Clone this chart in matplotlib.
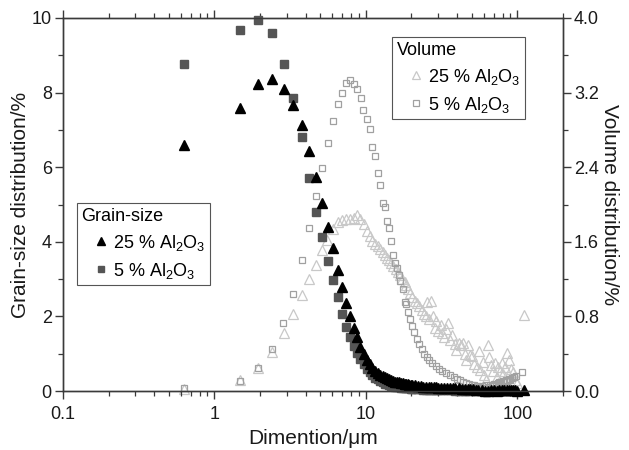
import matplotlib
matplotlib.use('Agg')
import matplotlib.pyplot as plt
from matplotlib.ticker import MultipleLocator, LogLocator, FormatStrFormatter, NullFormatter

plt.rcParams['font.family'] = ['Liberation Sans', 'DejaVu Sans']
plt.rcParams['mathtext.fontset'] = 'custom'
plt.rcParams['mathtext.rm'] = 'Liberation Sans'

# grain-size distribution (left axis, %)
g25_x = [0.63, 1.48, 1.94, 2.40, 2.86, 3.31, 3.78, 4.24, 4.69, 5.16, 5.59, 6.04, 6.51,
         6.95, 7.39, 7.85, 8.30, 8.77, 9.20, 9.66, 10.1, 10.6, 11.0, 11.5, 12.0, 12.4,
         12.9, 13.3, 13.8, 14.3, 14.7, 15.2, 15.6, 16.1, 16.6, 17.0, 17.5, 18.0, 18.4,
         18.9, 19.3, 19.8, 20.3, 21, 22, 23, 24, 25, 26, 27, 28, 29, 30, 31.5, 33, 34.5,
         36, 37.5, 39, 41, 43, 45, 47, 49, 51, 53, 55, 58, 61, 64, 67, 70, 73, 76, 79,
         82, 85, 88, 91, 94, 97, 100, 110]
g25_y = [6.60, 7.58, 8.22, 8.36, 8.11, 7.68, 7.12, 6.43, 5.73, 5.04, 4.39, 3.83, 3.25,
         2.78, 2.37, 2.02, 1.70, 1.44, 1.19, 0.98, 0.84, 0.72, 0.63, 0.55, 0.49, 0.44,
         0.40, 0.37, 0.34, 0.31, 0.29, 0.27, 0.25, 0.24, 0.23, 0.22, 0.21, 0.20, 0.19,
         0.18, 0.17, 0.17, 0.16, 0.15, 0.14, 0.13, 0.12, 0.12, 0.11, 0.11, 0.10, 0.10,
         0.09, 0.09, 0.08, 0.08, 0.08, 0.07, 0.07, 0.07, 0.06, 0.06, 0.06, 0.05, 0.05,
         0.04, 0.03, 0.02, 0.01, 0.01, 0.02, 0.02, 0.01, 0.03, 0.02, 0.04, 0.03, 0.04,
         0.03, 0.04, 0.02, 0.01, 0.04]

g5_x = [0.63, 1.48, 1.94, 2.40, 2.86, 3.31, 3.78, 4.24, 4.69, 5.16, 5.59, 6.04, 6.51,
        6.95, 7.39, 7.85, 8.30, 8.77, 9.20, 9.66, 10.1, 10.6, 11.0, 11.5, 12.0, 12.4,
        12.9, 13.3, 13.8, 14.3, 14.7, 15.2, 15.6, 16.1, 16.6, 17.0, 17.5, 18.0, 18.4,
        18.9, 19.3, 19.8, 20.3, 21, 22, 23, 24, 25, 26, 27, 28, 29, 30, 31.5, 33, 34.5,
        36, 37.5, 39, 41, 43, 45, 47, 49]
g5_y = [8.78, 9.69, 9.95, 9.61, 8.78, 7.86, 6.82, 5.72, 4.80, 4.12, 3.48, 2.97, 2.51,
        2.07, 1.71, 1.44, 1.22, 1.03, 0.85, 0.72, 0.60, 0.50, 0.42, 0.36, 0.31, 0.27,
        0.23, 0.20, 0.18, 0.16, 0.14, 0.13, 0.12, 0.11, 0.10, 0.09, 0.09, 0.08, 0.08,
        0.07, 0.07, 0.06, 0.06, 0.06, 0.05, 0.05, 0.04, 0.04, 0.04, 0.03, 0.03, 0.03,
        0.03, 0.02, 0.02, 0.02, 0.02, 0.02, 0.01, 0.01, 0.01, 0.01, 0.01, 0.01]

# volume distribution (right axis, %)
v25_x = [0.63, 1.48, 1.94, 2.40, 2.86, 3.32, 3.78, 4.22, 4.67, 5.14, 5.58, 6.04, 6.50,
         6.95, 7.40, 7.85, 8.30, 8.75, 9.20, 9.66, 10.1, 10.6, 11.0, 11.5, 12.0, 12.4,
         12.9, 13.3, 13.8, 14.3, 14.7, 15.2, 15.7, 16.2, 16.8, 17.4, 18.0, 18.5, 19.1,
         19.7, 20.3, 21.0, 21.7, 22.5, 23.3, 24.1, 25.0, 25.5, 26.0, 27.0, 27.6, 28.5,
         29.0, 30.0, 31.3, 32.0, 33.0, 34.0, 35.0, 36.0, 37.0, 38.5, 39.5, 41.0, 42.5,
         44.0, 45.0, 46.0, 47.0, 48.5, 50.0, 52.0, 54.0, 56.0, 57.0, 59.0, 60.0, 62.0,
         64.0, 65.0, 67.0, 69.0, 71.0, 73.0, 75.0, 77.0, 79.0, 81.0, 83.0, 86.0, 88.0,
         91.0, 94.0, 97.0, 100.0, 110.0]
v25_y = [0.02, 0.12, 0.25, 0.42, 0.62, 0.83, 1.03, 1.20, 1.35, 1.51, 1.62, 1.74, 1.81,
         1.83, 1.84, 1.85, 1.86, 1.89, 1.84, 1.79, 1.72, 1.66, 1.61, 1.58, 1.55, 1.52,
         1.49, 1.46, 1.43, 1.40, 1.37, 1.34, 1.31, 1.28, 1.24, 1.20, 1.17, 1.14, 1.09,
         1.05, 1.01, 0.97, 0.94, 0.91, 0.87, 0.83, 0.80, 0.96, 0.77, 0.97, 0.80, 0.68,
         0.75, 0.64, 0.71, 0.62, 0.58, 0.66, 0.73, 0.55, 0.60, 0.50, 0.44, 0.52, 0.49,
         0.51, 0.40, 0.33, 0.49, 0.39, 0.38, 0.29, 0.26, 0.43, 0.23, 0.31, 0.17, 0.12,
         0.49, 0.37, 0.28, 0.21, 0.30, 0.15, 0.26, 0.22, 0.30, 0.18, 0.26, 0.41, 0.33,
         0.24, 0.20, 0.12, 0.09, 0.82]

v5_x = [0.63, 1.48, 1.94, 2.40, 2.85, 3.32, 3.79, 4.24, 4.67, 5.14, 5.60, 6.04, 6.50,
        6.95, 7.39, 7.85, 8.30, 8.80, 9.25, 9.60, 10.1, 10.6, 11.0, 11.5, 12.0, 12.4,
        12.9, 13.3, 13.7, 14.2, 14.7, 15.1, 15.5, 16.0, 16.5, 16.9, 17.5, 18.0, 18.5,
        19.0, 19.6, 20.2, 20.9, 21.6, 22.4, 23.3, 24.2, 25.2, 26.3, 27.5, 29.0, 30.5,
        32.0, 34.0, 36.0, 38.0, 40.0, 42.0, 44.0, 46.0, 48.0, 50.0, 52.0, 54.0, 56.0,
        58.0, 60.0, 62.0, 64.0, 66.0, 68.0, 70.0, 72.0, 74.0, 76.0, 78.0, 80.0, 82.0,
        84.0, 86.0, 88.0, 90.0, 92.0, 95.0, 98.0, 108.0]
v5_y = [0.03, 0.11, 0.25, 0.45, 0.73, 1.04, 1.40, 1.75, 2.09, 2.39, 2.66, 2.90, 3.08,
        3.20, 3.30, 3.34, 3.29, 3.24, 3.14, 3.01, 2.92, 2.81, 2.62, 2.52, 2.34, 2.21,
        2.02, 1.97, 1.82, 1.75, 1.61, 1.46, 1.37, 1.32, 1.24, 1.18, 1.09, 0.96, 0.93,
        0.85, 0.77, 0.70, 0.63, 0.56, 0.50, 0.45, 0.40, 0.36, 0.33, 0.30, 0.27, 0.24,
        0.22, 0.19, 0.17, 0.15, 0.13, 0.12, 0.10, 0.09, 0.08, 0.07, 0.06, 0.05, 0.04,
        0.05, 0.03, 0.06, 0.04, 0.07, 0.05, 0.08, 0.06, 0.09, 0.10, 0.08, 0.11, 0.10,
        0.12, 0.11, 0.13, 0.12, 0.14, 0.15, 0.16, 0.20]

SPINE = '#3a3a3a'

fig = plt.figure(figsize=(6.29, 4.5), dpi=100)
ax = fig.add_axes([0.100, 0.131, 0.795, 0.829])
ax2 = ax.twinx()
ax.set_zorder(ax2.get_zorder() + 1)
ax.patch.set_visible(False)

# volume (drawn underneath)
v25, = ax2.plot(v25_x, v25_y, ls='none', marker='^', ms=7, mfc='none', mec='#c8c8c8',
                mew=0.9, clip_on=False, label='25 % Al$_\\mathregular{2}$O$_\\mathregular{3}$')
v5, = ax2.plot(v5_x, v5_y, ls='none', marker='s', ms=5, mfc='none', mec='#a0a0a0',
               mew=0.9, clip_on=False, label='5 % Al$_\\mathregular{2}$O$_\\mathregular{3}$')

# grain size
g5, = ax.plot(g5_x, g5_y, ls='none', marker='s', ms=5.5, color='#555555', mec='#555555',
              clip_on=False, label='5 % Al$_\\mathregular{2}$O$_\\mathregular{3}$')
g25, = ax.plot(g25_x, g25_y, ls='none', marker='^', ms=7, color='black',
               clip_on=False, label='25 % Al$_\\mathregular{2}$O$_\\mathregular{3}$')

ax.set_xscale('log')
ax.set_xlim(0.1, 200)
ax.set_ylim(0, 10)
ax2.set_ylim(0, 4)

ax.set_xticks([0.1, 1, 10, 100], labels=['0.1', '1', '10', '100'])
ax.xaxis.set_minor_locator(LogLocator(base=10, subs=range(2, 10)))
ax.xaxis.set_minor_formatter(NullFormatter())
ax.yaxis.set_major_locator(MultipleLocator(2))
ax.yaxis.set_minor_locator(MultipleLocator(1))
ax2.yaxis.set_major_locator(MultipleLocator(0.8))
ax2.yaxis.set_minor_locator(MultipleLocator(0.4))
ax2.yaxis.set_major_formatter(FormatStrFormatter('%.1f'))

for a in (ax, ax2):
    for s in a.spines.values():
        s.set_color(SPINE)
        s.set_linewidth(1.0)
    a.tick_params(which='both', direction='out', color=SPINE, labelsize=13, labelcolor='#1a1a1a')
    a.tick_params(which='major', length=6, width=1.0)
    a.tick_params(which='minor', length=3.5, width=0.9)
ax.tick_params(axis='x', which='both', top=True)
ax.tick_params(axis='x', which='major', pad=5)
ax.tick_params(axis='y', which='major', pad=2)
ax2.tick_params(axis='y', which='major', pad=2)

ax.set_xlabel('Dimention/μm', fontsize=15, color='#1a1a1a', labelpad=4)
ax.set_ylabel('Grain-size distribution/%', fontsize=15, color='#1a1a1a', labelpad=1)
ax2.set_ylabel('Volume distribution/%', fontsize=15, color='#1a1a1a', rotation=270, labelpad=14)

leg_kw = dict(loc='upper left', fontsize=13, title_fontsize=13, alignment='left',
              frameon=True, fancybox=False, framealpha=1, edgecolor='#555555',
              borderpad=0.25, borderaxespad=0, handlelength=2.2, handletextpad=-0.45,
              labelspacing=0.45, markerscale=0.85)

leg1 = ax.legend(handles=[g25, g5], title='Grain-size', bbox_to_anchor=(0.028, 0.504), **leg_kw)
leg1.get_frame().set_linewidth(0.8)
leg2 = ax2.legend(handles=[v25, v5], title='Volume', bbox_to_anchor=(0.658, 0.949), **leg_kw)
leg2.get_frame().set_linewidth(0.8)

fig.savefig('out.png', dpi=100)
